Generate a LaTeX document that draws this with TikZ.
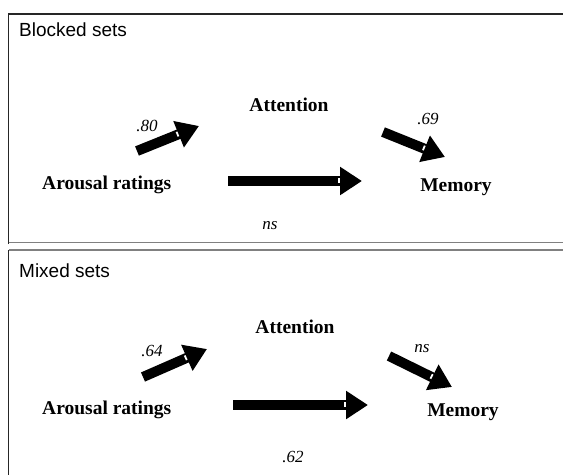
\documentclass[tikz,border=0pt]{standalone}
\usepackage{fontspec}
\setmainfont{Liberation Serif}
\newfontfamily\labelfont{Liberation Sans}
\usetikzlibrary{arrows.meta,calc}
\newcommand\blockarrow[2]{%
  \draw[bigarrow] (#1) -- (#2);
  \coordinate (nb) at ($(#2)!23pt!(#1)$);
  \draw[notch] ($(nb)!3pt!90:(#2)$) -- ($(nb)!2pt!-90:(#2)$);}
\begin{document}
\begin{tikzpicture}[x=1pt,y=-1pt,
  panel/.style={font=\labelfont\fontsize{19}{22}\selectfont, anchor=base west, inner sep=0},
  var/.style={font=\bfseries\fontsize{19.5}{22}\selectfont, inner sep=0, anchor=base},
  coef/.style={font=\itshape\fontsize{17}{20}\selectfont, inner sep=0, anchor=base},
  bigarrow/.style={line width=10pt, -{Triangle[length=22pt,width=27pt]}},
  notch/.style={white, line width=1.8pt},
  frameline/.style={draw=black!85, line width=1.3pt},
  sepline/.style={draw=black!50, line width=1.5pt}]
\useasboundingbox (0,0) rectangle (563,475);
% frames
\draw[frameline] (8.5,244) -- (8.5,14) -- (563,14);
\draw[sepline] (8.5,242.5) -- (563,242.5);
\draw[sepline] (8.5,250) -- (563,250);
\draw[frameline] (8.5,250) -- (8.5,475);
% top panel
\node[panel] (t1) at (19,36) {Blocked sets};
\node[var] (att1) at (289,111) {Attention};
\node[var, anchor=base west] (ar1) at (42,189.3) {Arousal ratings};
\node[var] (mem1) at (456,191) {Memory};
\node[coef] (c80) at (147,131) {.80};
\node[coef] (c69) at (428,124) {.69};
\node[coef] (cns1) at (270,229) {ns};
\coordinate (a1s) at (137,151); \coordinate (a1e) at (199,126);
\coordinate (a2s) at (383,132); \coordinate (a2e) at (445,157);
\coordinate (h1s) at (228,181); \coordinate (h1e) at (362,181);
\blockarrow{a1s}{a1e}
\blockarrow{a2s}{a2e}
\blockarrow{h1s}{h1e}
% bottom panel
\node[panel] (t2) at (19,277) {Mixed sets};
\node[var] (att2) at (295,333) {Attention};
\node[var, anchor=base west] (ar2) at (42,414) {Arousal ratings};
\node[var] (mem2) at (463,416) {Memory};
\node[coef] (c64) at (152,356) {.64};
\node[coef] (cns2) at (422,352) {ns};
\node[coef] (c62) at (293,462) {.62};
\coordinate (a3s) at (143,377); \coordinate (a3e) at (207,349);
\coordinate (a4s) at (389,356); \coordinate (a4e) at (452,387);
\coordinate (h2s) at (233,405); \coordinate (h2e) at (368,405);
\blockarrow{a3s}{a3e}
\blockarrow{a4s}{a4e}
\blockarrow{h2s}{h2e}
\end{tikzpicture}
\end{document}
